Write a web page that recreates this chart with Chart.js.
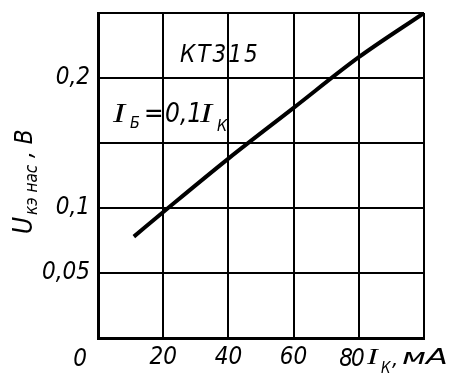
<!DOCTYPE html>
<html>
<head>
<meta charset="utf-8">
<script src="https://cdn.jsdelivr.net/npm/chart.js@4/dist/chart.umd.min.js"></script>
<style>
  html, body { margin: 0; padding: 0; background: #fff; }
  #wrap { width: 450px; height: 378px; }
</style>
</head>
<body>
<div id="wrap"><canvas id="chart" width="450" height="378"></canvas></div>
<script>
// КТ315: collector-emitter saturation voltage vs collector current
const currentMA = [11, 21.5, 40, 60, 80, 100];
const voltageV  = [0.078, 0.1, 0.138, 0.177, 0.216, 0.25];

const xTicks = [0, 20, 40, 60, 80, 100];
const xTickLabels = ["", "20", "40", "60", "", ""];     // 0 and 80 drawn with the axis caption
const yTicks = [0, 0.05, 0.1, 0.15, 0.2, 0.25];
const yTickLabels = ["", "0,05", "0,1", "", "0,2", ""];

const FONT = "'DejaVu Sans Condensed', 'Liberation Sans Narrow', 'DejaVu Sans', sans-serif";
const WIDE = "'DejaVu Sans', sans-serif";
const SERIF = "'Liberation Serif', 'DejaVu Serif', serif";

// ── Text helpers ──────────────────────────────────────────────────────────────
function txt(ctx, s, x, y, size, fam, align) {
  ctx.font = `italic ${size}px ${fam || FONT}`;
  ctx.textAlign = align || "left";
  ctx.textBaseline = "alphabetic";
  ctx.fillText(s, x, y);
}

// same, stretched horizontally (the drawing's I and мА are wide)
function txtW(ctx, s, x, y, size, fam, sx) {
  ctx.save();
  ctx.translate(x, y);
  ctx.scale(sx, 1);
  txt(ctx, s, 0, 0, size, fam);
  ctx.restore();
}

// no extra room for edge tick labels: the plot box is fixed
function noPad(s) {
  s.paddingTop = 0; s.paddingBottom = 0;
  s.paddingLeft = 0; s.paddingRight = 0;
}

const captions = {
  id: "captions",
  afterDraw(chart) {
    const ctx = chart.ctx;
    ctx.save();
    ctx.fillStyle = "#000";

    // transistor type
    ctx.letterSpacing = "2px";
    txt(ctx, "КТ315", 180, 62, 24);
    ctx.letterSpacing = "0px";

    // I_Б = 0,1 I_K
    txtW(ctx, "I", 113, 122, 27, SERIF, 1.35);
    txt(ctx, "Б", 130, 128, 16);
    txt(ctx, "=", 144, 122, 26);
    txt(ctx, "0,1", 165, 122, 26);
    txtW(ctx, "I", 200, 122, 27, SERIF, 1.35);
    txt(ctx, "К", 217, 131, 16);

    // x axis: origin, 80 and caption
    txt(ctx, "0", 80, 366, 24, null, "center");
    ctx.letterSpacing = "-2px";
    txt(ctx, "80", 351, 366, 24, null, "center");
    ctx.letterSpacing = "0px";
    txtW(ctx, "I", 367, 364, 24, SERIF, 1.35);
    txt(ctx, "К", 381, 373, 15);
    txt(ctx, ",", 392, 366, 22);
    txtW(ctx, "мА", 402, 364, 22, WIDE, 1.45);

    // y axis caption, rotated
    ctx.translate(32, 234);
    ctx.rotate(-Math.PI / 2);
    txt(ctx, "U", 0, 0, 26);
    txt(ctx, "кэ нас", 19, 5, 17);
    txt(ctx, ", В", 76, 0, 24);
    ctx.restore();
  },
};

// ── Chart ─────────────────────────────────────────────────────────────────────
const ctx = document.getElementById("chart").getContext("2d");
new Chart(ctx, {
  type: "line",
  data: {
    datasets: [{
      data: currentMA.map((x, i) => ({ x, y: voltageV[i] })),
      borderColor: "#000",
      borderWidth: 4,
      pointRadius: 0,
      cubicInterpolationMode: "monotone",
      fill: false,
    }],
  },
  options: {
    responsive: false,
    animation: false,
    layout: { padding: { top: 13, right: 26, left: 0, bottom: 0 } },
    plugins: { legend: { display: false }, tooltip: { enabled: false } },
    scales: {
      x: {
        type: "linear",
        min: 0, max: 100,
        afterBuildTicks: s => { s.ticks = xTicks.map(v => ({ value: v })); },
        afterFit: s => { s.height = 40; noPad(s); },
        grid:  { color: "#000", lineWidth: 2, drawTicks: false },
        border: { color: "#000", width: 3 },
        ticks: {
          color: "#000",
          padding: 5,
          maxRotation: 0,
          font: { family: FONT, size: 24, style: "italic" },
          callback: v => xTickLabels[xTicks.indexOf(v)] ?? "",
        },
      },
      y: {
        min: 0, max: 0.25,
        afterBuildTicks: s => { s.ticks = yTicks.map(v => ({ value: v })); },
        afterFit: s => { s.width = 98; noPad(s); },
        grid:  { color: "#000", lineWidth: 2, drawTicks: false },
        border: { color: "#000", width: 3 },
        ticks: {
          color: "#000",
          padding: 8,
          font: { family: FONT, size: 24, style: "italic" },
          callback: v => yTickLabels[yTicks.findIndex(t => Math.abs(t - v) < 1e-9)] ?? "",
        },
      },
    },
  },
  plugins: [captions],
});
</script>
</body>
</html>
